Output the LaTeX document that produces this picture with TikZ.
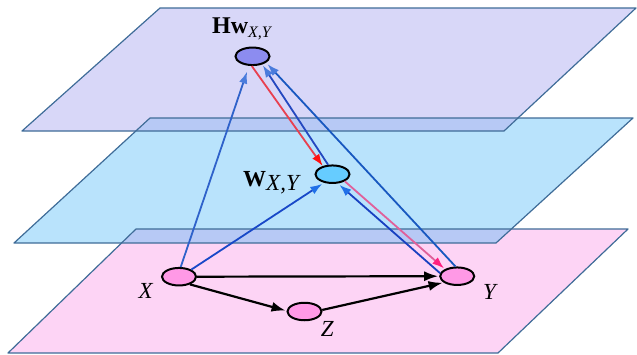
\documentclass[tikz,border=0pt]{standalone}
\usepackage{fontspec}
\setmainfont{Liberation Serif}
\usetikzlibrary{shapes.geometric,arrows.meta}
\definecolor{topfill}{HTML}{D8D7F8}
\definecolor{midfill}{HTML}{B9E3FC}
\definecolor{botfill}{HTML}{FDD4F5}
\definecolor{ovfill}{HTML}{B7C9F5}
\definecolor{planeedge}{HTML}{3F6C98}
\definecolor{hwfill}{HTML}{8C8CF0}
\definecolor{wfill}{HTML}{66CCFF}
\definecolor{pfill}{HTML}{FF99E6}
\definecolor{cXH}{HTML}{2F62CA}
\definecolor{cXW}{HTML}{1848C8}
\definecolor{cRed}{HTML}{E84050}
\definecolor{cWH}{HTML}{2448C0}
\definecolor{cYH}{HTML}{1858C0}
\definecolor{cYW}{HTML}{1840C0}
\definecolor{cWY}{HTML}{E0609A}
\definecolor{tipA}{HTML}{4A7CDC}
\definecolor{tipB}{HTML}{2070E8}
\definecolor{tipR}{HTML}{FF1010}
\definecolor{tipP}{HTML}{FF2080}
\begin{document}
\begin{tikzpicture}[x=1pt,y=-1pt,
  plane/.style={draw=planeedge,line width=1.2pt,line join=round},
  vnode/.style={ellipse,draw=black,line width=2pt,minimum width=34pt,minimum height=17.5pt,inner sep=0pt},
  lbl/.style={font=\fontsize{23}{27}\selectfont,inner sep=0pt,anchor=base west},
  blk/.style={line width=2.2pt,-{Latex[length=14pt,width=10pt]},shorten >=1pt},
  bl/.style={line width=1.8pt,shorten >=2pt},
  tipa/.style={-{Latex[length=12pt,width=8.5pt,color=#1]}}
]
\useasboundingbox (0,0) rectangle (637,354);
% planes
\path[fill=topfill] (160,8) -- (636,8) -- (504,131) -- (22,131) -- cycle;
\path[fill=midfill] (150,118) -- (633,118) -- (496,243) -- (14,243) -- cycle;
\path[fill=botfill] (136,229) -- (628,229) -- (498,353) -- (8,353) -- cycle;
\begin{scope}
  \clip (160,8) -- (636,8) -- (504,131) -- (22,131) -- cycle;
  \path[fill=ovfill] (150,118) -- (633,118) -- (496,243) -- (14,243) -- cycle;
\end{scope}
\begin{scope}
  \clip (150,118) -- (633,118) -- (496,243) -- (14,243) -- cycle;
  \path[fill=ovfill] (136,229) -- (628,229) -- (498,353) -- (8,353) -- cycle;
\end{scope}
\draw[plane] (160,8) -- (636,8) -- (504,131) -- (22,131) -- cycle;
\draw[plane] (150,118) -- (633,118) -- (496,243) -- (14,243) -- cycle;
\draw[plane] (136,229) -- (628,229) -- (498,353) -- (8,353) -- cycle;
% nodes
\node[vnode,fill=hwfill] (Hw) at (252.5,56.3) {};
\node[vnode,fill=wfill] (W) at (332.5,174.2) {};
\node[vnode,fill=pfill] (X) at (179,276.7) {};
\node[vnode,fill=pfill] (Y) at (457.2,276.2) {};
\node[vnode,fill=pfill] (Z) at (304.5,311.5) {};
% labels
\node[lbl] (lH) at (212,33.3) {\fontsize{24}{28}\selectfont\textbf{Hw}\raisebox{-4.5pt}{\fontsize{16}{18}\selectfont\textit{X,Y}}};
\node[lbl] (lW) at (243,186.7) {\textbf{W}\raisebox{-4pt}{\textit{X,Y}}};
\node[lbl] (lX) at (138.3,298.3) {\textit{X}};
\node[lbl] (lY) at (483,299) {\textit{Y}};
\node[lbl] (lZ) at (320.7,336.7) {\textit{Z}};
% blue / red connectors
\draw[bl,cXH,tipa=tipA,shorten >=6pt] (X.80) -- (Hw.250);
\draw[bl,cXW,tipa=tipB] (X.30) -- (W.225);
\draw[bl,cRed,tipa=tipR,shorten >=0pt] (Hw.266) -- (W.140);
\draw[bl,cWH,tipa=tipA,shorten >=1pt] (W.115) -- (Hw.320);
\draw[bl,cYH,tipa=tipA,shorten >=2pt] (Y.100) -- (Hw.335);
\draw[bl,cYW,tipa=tipB,shorten >=2pt] (Y.170) -- (W.300);
\draw[bl,cWY,tipa=tipP,shorten >=1pt] (W.330) -- (Y.150);
% black connectors
\draw[blk] (X.east) -- (Y.west);
\draw[blk] (X.325) -- (Z.178);
\draw[blk] (Z.5) -- (Y.205);
\end{tikzpicture}
\end{document}
